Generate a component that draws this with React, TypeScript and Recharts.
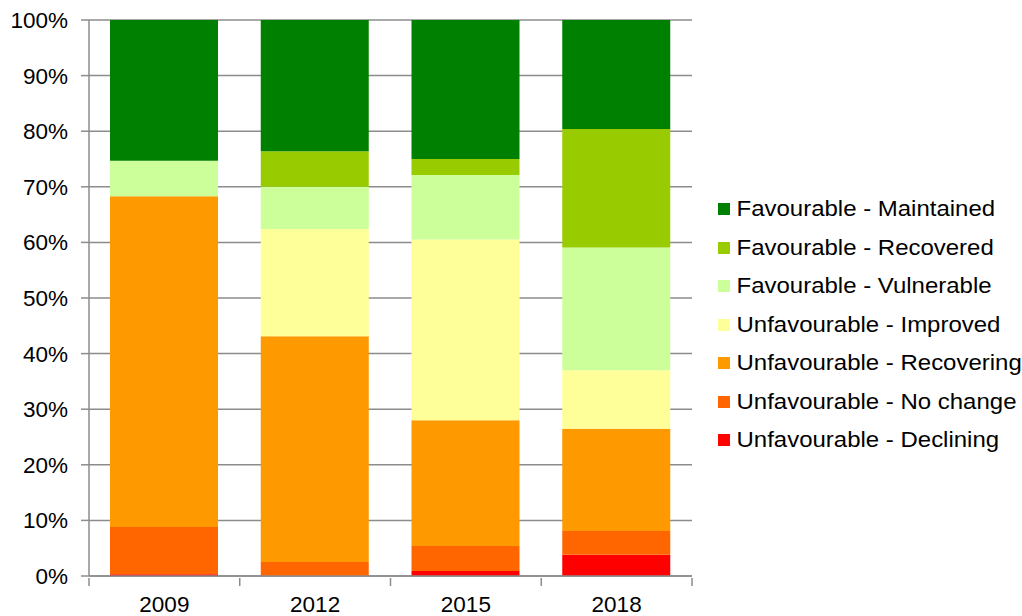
import React from 'react';
import { BarChart, Bar, XAxis, YAxis, CartesianGrid } from 'recharts';

const years = ['2009', '2012', '2015', '2018'];

// values in % of total, bottom of the stack first
const declining = [0.3, 0, 0.9, 3.8];
const noChange = [8.5, 2.5, 4.5, 4.3];
const recovering = [59.5, 40.6, 22.6, 18.4];
const improved = [0, 19.3, 32.5, 10.5];
const vulnerable = [6.4, 7.6, 11.6, 22.1];
const recovered = [0, 6.4, 2.9, 21.3];
const maintained = [25.3, 23.6, 25.0, 19.6];

const yTicks = [0, 10, 20, 30, 40, 50, 60, 70, 80, 90, 100];

const series = [
  { key: 'declining', name: 'Unfavourable - Declining', color: '#FF0000', values: declining },
  { key: 'noChange', name: 'Unfavourable - No change', color: '#FF6600', values: noChange },
  { key: 'recovering', name: 'Unfavourable - Recovering', color: '#FF9900', values: recovering },
  { key: 'improved', name: 'Unfavourable - Improved', color: '#FFFF99', values: improved },
  { key: 'vulnerable', name: 'Favourable - Vulnerable', color: '#CCFF99', values: vulnerable },
  { key: 'recovered', name: 'Favourable - Recovered', color: '#99CC00', values: recovered },
  { key: 'maintained', name: 'Favourable - Maintained', color: '#008000', values: maintained },
];

const data = years.map((year, i) => {
  const row: Record<string, string | number> = { year };
  series.forEach((s) => {
    row[s.key] = s.values[i];
  });
  return row;
});

const FONT = 'Arial, "Liberation Sans", sans-serif';
const AXIS = '#8C8C8C';
const PLOT_LEFT = 89;
const PLOT_RIGHT = 692;
const BAND = (PLOT_RIGHT - PLOT_LEFT) / years.length;

const XTick = (props: any) => {
  const { x, y, payload, index } = props;
  const left = x - BAND / 2;
  return (
    <g>
      <line x1={left} y1={y} x2={left} y2={y + 8} stroke={AXIS} strokeWidth={1.5} />
      {index === years.length - 1 && (
        <line x1={left + BAND} y1={y} x2={left + BAND} y2={y + 8} stroke={AXIS} strokeWidth={1.5} />
      )}
      <text
        x={x}
        y={y + 34}
        textAnchor="middle"
        fontSize={22.5}
        fontFamily={FONT}
        fill="#000"
      >
        {payload.value}
      </text>
    </g>
  );
};

const YTick = (props: any) => {
  const { x, y, payload } = props;
  return (
    <text x={x} y={y + 8} textAnchor="end" fontSize={22.5} fontFamily={FONT} fill="#000">
      {`${payload.value}%`}
    </text>
  );
};

const ChartLegend = () => (
  <div
    style={{
      position: 'absolute',
      left: 718,
      top: 190,
      fontFamily: FONT,
      fontSize: 22,
      color: '#000',
      transform: 'scaleX(1.09)',
      transformOrigin: 'left top',
    }}
  >
    {[...series].reverse().map((s) => (
      <div key={s.key} style={{ display: 'flex', alignItems: 'center', height: 38.5 }}>
        <span style={{ width: 11, height: 12, background: s.color, marginRight: 6, display: 'inline-block' }} />
        <span style={{ whiteSpace: 'nowrap' }}>{s.name}</span>
      </div>
    ))}
  </div>
);

const App: React.FC = () => {
  return (
    <div style={{ position: 'absolute', left: 0, top: 0, width: 1022, height: 616, background: '#fff' }}>
      <BarChart
        width={1022}
        height={616}
        data={data}
        margin={{ top: 20, right: 330, bottom: 0, left: 0 }}
        barSize={108}
      >
        <CartesianGrid vertical={false} stroke={AXIS} strokeWidth={1.5} />
        <XAxis
          dataKey="year"
          axisLine={{ stroke: AXIS, strokeWidth: 1.5 }}
          tickLine={false}
          tick={<XTick />}
          tickSize={0}
          height={40}
          interval={0}
        />
        <YAxis
          domain={[0, 100]}
          ticks={yTicks}
          interval={0}
          width={89}
          axisLine={{ stroke: AXIS, strokeWidth: 1.5 }}
          tickLine={{ stroke: AXIS, strokeWidth: 1.5 }}
          tickSize={8}
          tickMargin={13}
          tick={<YTick />}
        />
        {series.map((s) => (
          <Bar
            key={s.key}
            dataKey={s.key}
            name={s.name}
            stackId="a"
            fill={s.color}
            isAnimationActive={false}
          />
        ))}
      </BarChart>
      <ChartLegend />
    </div>
  );
};

export default App;
